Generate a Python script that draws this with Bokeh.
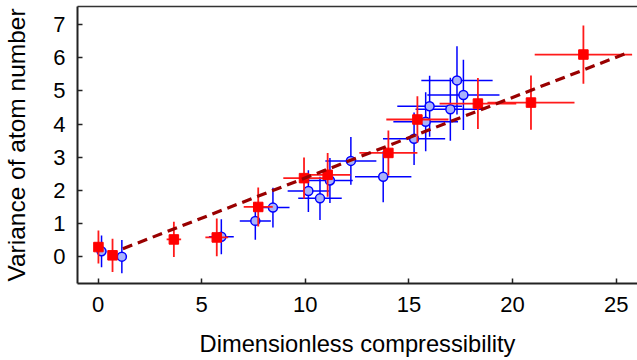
import numpy as np
from bokeh.plotting import figure
from bokeh.models import Range1d, FixedTicker, LinearAxis
from bokeh.embed import file_html
from bokeh.resources import INLINE

# Red squares
red_x = [0.02, 0.70, 3.66, 5.73, 7.73, 9.94, 11.08, 14.01, 15.41, 18.33, 20.89, 23.42]
red_y = [0.29, 0.04, 0.52, 0.58, 1.50, 2.37, 2.47, 3.13, 4.14, 4.62, 4.65, 6.10]
red_xerr = [0.10, 0.15, 0.35, 0.55, 0.70, 1.00, 1.10, 1.40, 1.50, 1.85, 2.10, 2.35]
red_yerr = [0.50, 0.50, 0.53, 0.57, 0.59, 0.62, 0.66, 0.68, 0.70, 0.77, 0.82, 0.88]

# Blue circles
blue_x = [0.17, 1.15, 5.95, 7.59, 8.44, 10.15, 10.71, 11.19, 12.20, 13.76, 15.25, 15.81, 16.00, 17.00, 17.32, 17.63]
blue_y = [0.16, 0.00, 0.60, 1.08, 1.48, 1.98, 1.76, 2.30, 2.89, 2.41, 3.56, 4.07, 4.54, 4.45, 5.32, 4.88]
blue_xerr = [0.10, 0.10, 0.60, 0.75, 0.80, 1.00, 1.05, 1.10, 1.23, 1.36, 1.50, 1.56, 1.56, 1.68, 1.72, 1.74]
blue_yerr = [0.48, 0.50, 0.53, 0.57, 0.60, 0.63, 0.65, 0.68, 0.72, 0.77, 0.79, 0.89, 0.92, 0.95, 1.03, 1.06]

# Linear fit (dashed)
fit_x = [1.2, 25.5]
fit_y = [0.24, 6.14]

x_ticks = [0, 5, 10, 15, 20, 25]
y_ticks = [0, 1, 2, 3, 4, 5, 6, 7]

x_label = "Dimensionless compressibility"
y_label = "Variance of atom number"

FONT = "Liberation Sans"

p = figure(width=637, height=360, output_backend="svg", toolbar_location=None,
           x_range=Range1d(-0.99, 26.03), y_range=Range1d(-0.81, 7.55),
           min_border_left=75, min_border_right=0, min_border_top=6, min_border_bottom=77)
p.grid.visible = False
p.outline_line_color = None
p.background_fill_color = "white"

for ax in (p.xaxis[0], p.yaxis[0]):
    ax.axis_line_color = "#222222"
    ax.axis_line_width = 2
    ax.major_tick_in = 5
    ax.major_tick_out = 0
    ax.major_tick_line_color = "#222222"
    ax.major_tick_line_width = 1.5
    ax.minor_tick_line_color = None
    ax.major_label_text_font = FONT
    ax.major_label_text_font_size = "22px"
    ax.major_label_text_color = "black"
    ax.major_label_text_line_height = 1.0
    ax.axis_label_text_font = FONT
    ax.axis_label_text_font_style = "normal"
    ax.axis_label_text_color = "black"
    ax.axis_label_text_line_height = 1.0

p.xaxis[0].ticker = FixedTicker(ticks=x_ticks)
p.yaxis[0].ticker = FixedTicker(ticks=y_ticks)
p.xaxis[0].axis_label = x_label
p.yaxis[0].axis_label = y_label
p.xaxis[0].axis_label_text_font_size = "23.7px"
p.yaxis[0].axis_label_text_font_size = "24.5px"
p.xaxis[0].major_label_standoff = 13
p.yaxis[0].major_label_standoff = 12
p.xaxis[0].axis_label_standoff = 16
p.yaxis[0].axis_label_standoff = 20

top = LinearAxis(ticker=FixedTicker(ticks=[]), major_label_text_font_size="0px",
                 major_label_standoff=0, major_tick_in=0, major_tick_out=0,
                 minor_tick_in=0, minor_tick_out=0,
                 major_tick_line_color=None, minor_tick_line_color=None,
                 axis_line_color="#333333", axis_line_width=1.5)
p.add_layout(top, "above")

bx = np.array(blue_x); by = np.array(blue_y)
bxe = np.array(blue_xerr); bye = np.array(blue_yerr)
rx = np.array(red_x); ry = np.array(red_y)
rxe = np.array(red_xerr); rye = np.array(red_yerr)

# Blue error bars
p.segment(x0=bx - bxe, y0=by, x1=bx + bxe, y1=by, line_color="#0000ff", line_width=1.5)
p.segment(x0=bx, y0=by - bye, x1=bx, y1=by + bye, line_color="#0000ff", line_width=1.5)
p.scatter(x=blue_x, y=blue_y, marker="circle", size=9, fill_color="#a9b3fb",
          line_color="#0000ff", line_width=1.5)

# Red error bars
p.segment(x0=rx - rxe, y0=ry, x1=rx + rxe, y1=ry, line_color="#ff1a1a", line_width=1.8)
p.segment(x0=rx, y0=ry - rye, x1=rx, y1=ry + rye, line_color="#ff1a1a", line_width=1.8)
p.scatter(x=red_x, y=red_y, marker="square", size=9.5, fill_color="#ff0000",
          line_color="#ff0000", line_width=1)

# Dashed fit
p.line(x=fit_x, y=fit_y, line_color="#990000", line_width=3.2, line_dash="10 6")

open("out.html", "w").write(file_html(p, INLINE))
